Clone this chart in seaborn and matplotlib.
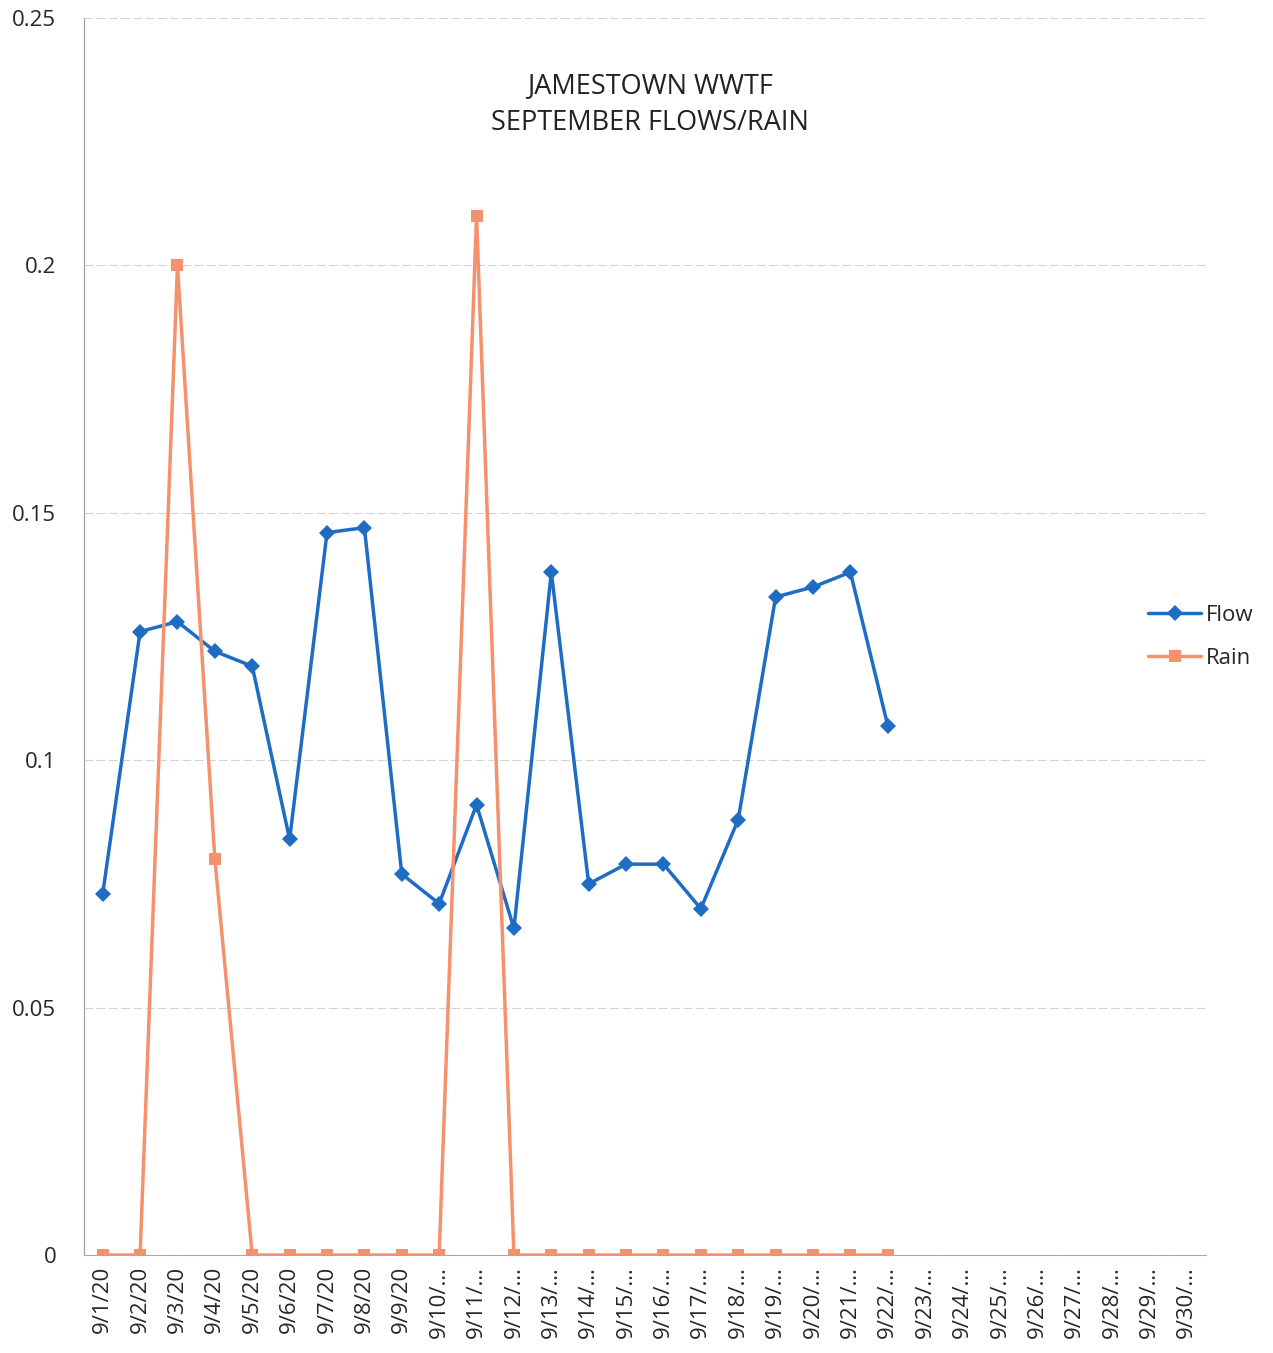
import matplotlib
matplotlib.use("Agg")
import matplotlib.pyplot as plt
import seaborn as sns
import numpy as np
import pandas as pd

# Category labels on the x axis (Excel truncates the longer ones)
dates = ["9/1/20", "9/2/20", "9/3/20", "9/4/20", "9/5/20", "9/6/20", "9/7/20",
         "9/8/20", "9/9/20"] + [f"9/{d}/\u2026" for d in range(10, 31)]

# Daily values (September, through 9/22)
flow = [0.073, 0.126, 0.128, 0.122, 0.119, 0.084, 0.146, 0.147, 0.077, 0.071,
        0.091, 0.066, 0.138, 0.075, 0.079, 0.079, 0.070, 0.088, 0.133, 0.135,
        0.138, 0.107]
rain = [0.0, 0.0, 0.20, 0.08, 0.0, 0.0, 0.0, 0.0, 0.0, 0.0,
        0.21, 0.0, 0.0, 0.0, 0.0, 0.0, 0.0, 0.0, 0.0, 0.0,
        0.0, 0.0]

df = pd.DataFrame({
    "day": list(range(len(flow))) * 2,
    "value": flow + rain,
    "series": ["Flow"] * len(flow) + ["Rain"] * len(rain),
})

sns.set_style("white")
plt.rcParams["font.family"] = ["Open Sans", "DejaVu Sans"]

fig = plt.figure(figsize=(12.73, 13.53), dpi=100)
ax = fig.add_axes([0.066, 0.0724, 0.881, 0.9143])

colors = {"Flow": "#1f6cc4", "Rain": "#f5916c"}
sns.lineplot(data=df, x="day", y="value", hue="series", style="series",
             palette=colors, markers={"Flow": "D", "Rain": "s"}, dashes=False,
             linewidth=2.5, markersize=8, markeredgewidth=0, ax=ax)

ax.set_xlim(-0.5, len(dates) - 0.5)
ax.set_ylim(0, 0.25)
ax.set_yticks(np.arange(0, 0.251, 0.05))
ax.set_yticklabels(["0", "0.05", "0.1", "0.15", "0.2", "0.25"], fontsize=16)
ax.set_xticks(range(len(dates)))
ax.set_xticklabels(dates, rotation=90, fontsize=16)
ax.set_xticks(np.arange(-0.5, len(dates), 1), minor=True)
ax.tick_params(axis="x", which="major", length=0, pad=8)
ax.tick_params(axis="x", which="minor", length=5, color="#888888", direction="out")
ax.tick_params(axis="y", length=0, pad=20)
ax.set_xlabel("")
ax.set_ylabel("")

ax.grid(axis="y", color="#d4d4d4", linewidth=0.8, linestyle=(0, (8, 3)))
for s in ["top", "right"]:
    ax.spines[s].set_visible(False)
ax.spines["left"].set_color("#999999")
ax.spines["left"].set_linewidth(0.8)
ax.spines["bottom"].set_color("#aaaaaa")
ax.spines["bottom"].set_linewidth(0.8)
ax.set_axisbelow(True)

ax.text(0.505, 0.93, "JAMESTOWN WWTF\nSEPTEMBER FLOWS/RAIN", transform=ax.transAxes,
        ha="center", va="center", fontsize=19.5, color="#222222", linespacing=1.45)

ax.legend(loc="center left", bbox_to_anchor=(1148 / 1273, 1 - 637 / 1353),
          bbox_transform=fig.transFigure, frameon=False, fontsize=16,
          handlelength=2.4, labelspacing=1.0, handletextpad=0.2,
          borderaxespad=0, borderpad=0)

fig.savefig("out.png", dpi=100, facecolor="white")
